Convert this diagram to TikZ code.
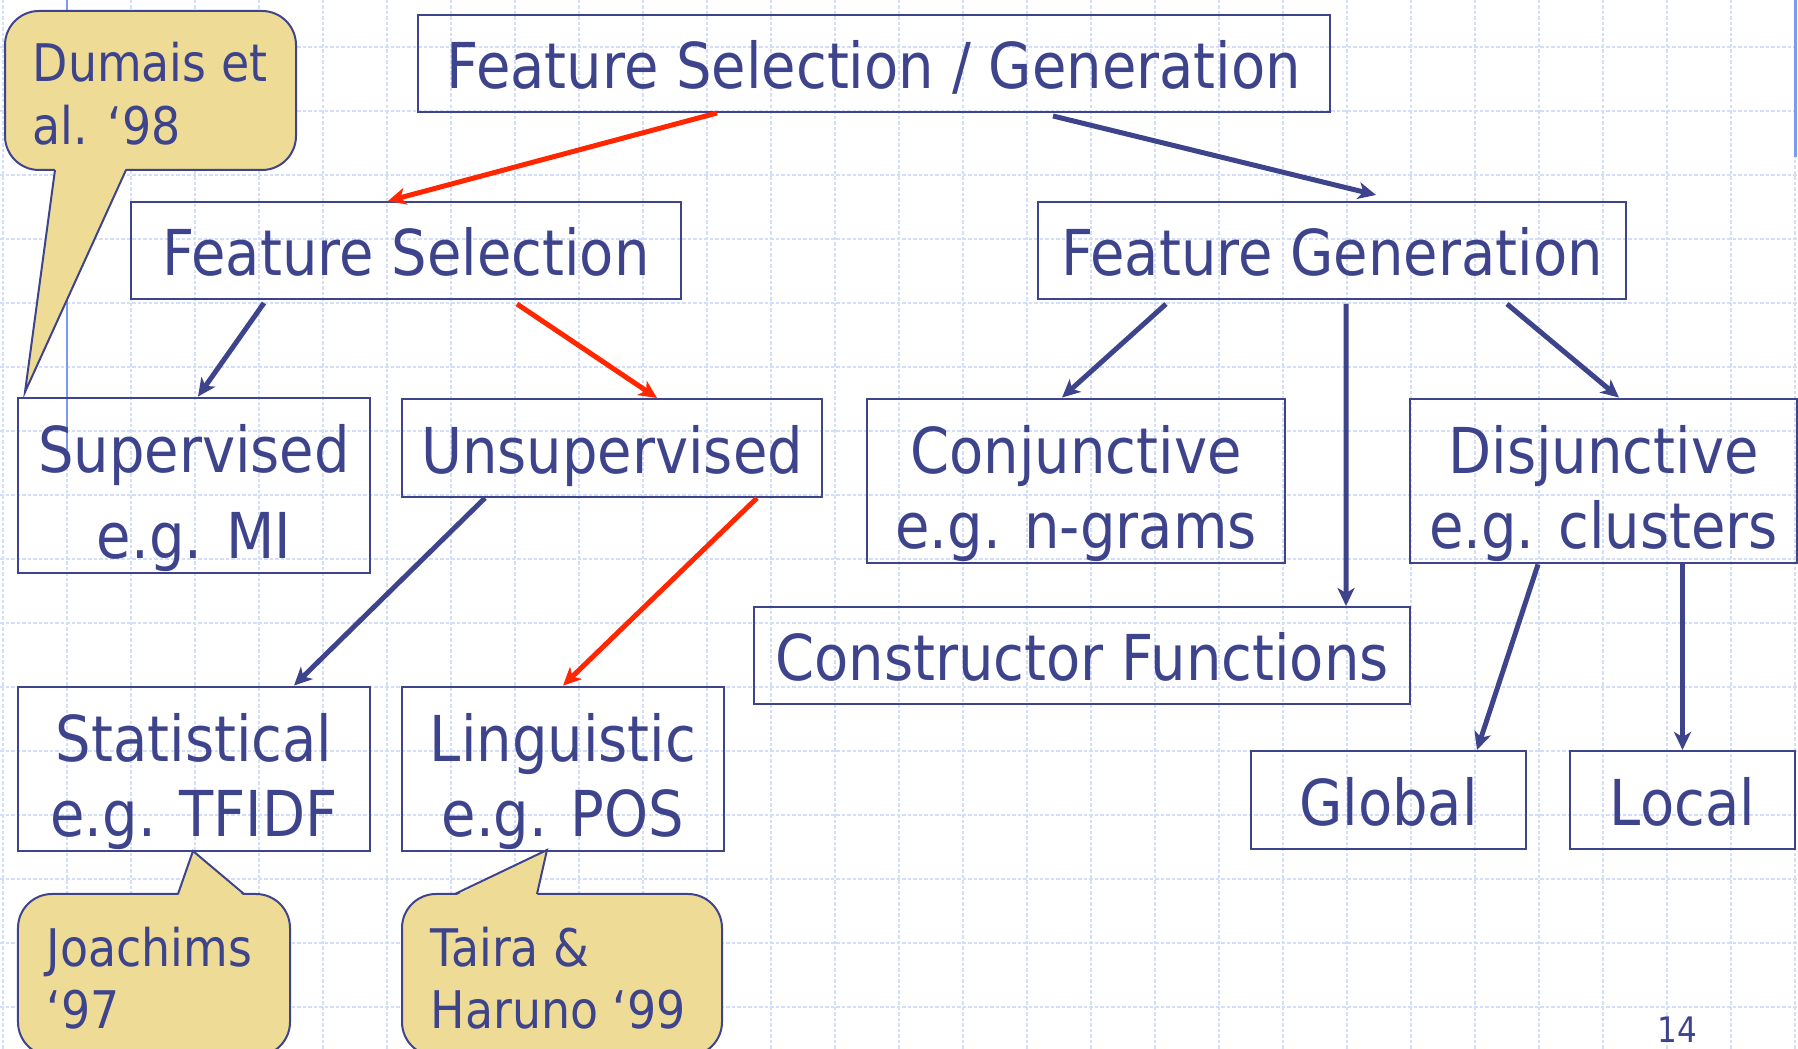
\documentclass[tikz,border=0pt]{standalone}
\usepackage{fontspec}
\setmainfont{DejaVu Sans}[FakeStretch=0.885]
\usetikzlibrary{arrows.meta}

\definecolor{slide}{RGB}{62,68,140}
\definecolor{hot}{RGB}{255,38,0}
\definecolor{notefill}{RGB}{238,220,150}
\definecolor{gridblue}{RGB}{210,222,250}
\definecolor{ruleblue}{RGB}{125,155,238}

\newcommand{\topstrut}{\rule{0pt}{0.75cm}}

\tikzset{
  box/.style={draw=slide, line width=0.02cm, text=slide, inner sep=0pt, align=center,
    font=\fontsize{18}{21.3}\selectfont,
    execute at begin node={\rule{0pt}{0.66cm}},
    execute at end node={\rule[-0.15cm]{0pt}{0pt}}},
  bluearr/.style={draw=slide, line width=0.05cm,
    -{Stealth[length=0.18cm,width=0.17cm,inset=0.05cm]}},
  redarr/.style={bluearr, draw=hot},
  gridline/.style={draw=gridblue, line width=0.02cm, dash pattern=on 0.035cm off 0.02cm},
  callout/.style={fill=notefill, draw=slide, line width=0.02cm},
  notetext/.style={text=slide, anchor=north west, align=left, inner sep=0pt,
    font=\fontsize{14.75}{17.9}\selectfont},
}

\begin{document}
\begin{tikzpicture}[x=1cm,y=-1cm]
\useasboundingbox (0,0) rectangle (17.98,10.49);
\clip (0,0) rectangle (17.98,10.49);

% background grid
\foreach \gx in {0,...,28}
    \draw[gridline] ({0.03+0.64*\gx},0) -- ({0.03+0.64*\gx},10.49);
\foreach \gy in {0,...,15}
    \draw[gridline] (0,{0.47+0.64*\gy}) -- (17.98,{0.47+0.64*\gy});
\draw[ruleblue, line width=0.02cm] (0.67,0) -- (0.67,4.50);
\draw[ruleblue, line width=0.03cm] (17.95,0) -- (17.95,1.57);

% boxes
\node[box, minimum width=9.12cm, minimum height=0.97cm] (fsg) at (8.74,0.635) {Feature Selection / Generation};
\node[box, minimum width=5.50cm, minimum height=0.97cm] (fsel) at (4.06,2.505) {Feature Selection};
\node[box, minimum width=5.88cm, minimum height=0.97cm] (fgen) at (13.32,2.505) {Feature Generation};

\node[box, minimum width=3.52cm, minimum height=1.73cm] (sup) at (1.94,4.855) {\topstrut Supervised\\[0.11cm]e.g. MI};
\node[box, minimum width=4.20cm, minimum height=0.98cm] (unsup) at (6.12,4.48) {Unsupervised};
\node[box, minimum width=4.18cm, minimum height=1.64cm] (conj) at (10.76,4.81) {\topstrut Conjunctive\\e.g. n-grams};
\node[box, minimum width=3.87cm, minimum height=1.64cm] (disj) at (16.035,4.81) {\topstrut Disjunctive\\e.g. clusters};
\node[box, minimum width=6.56cm, minimum height=0.97cm] (cons) at (10.82,6.555) {Constructor Functions};

\node[box, minimum width=3.52cm, minimum height=1.64cm] (stat) at (1.94,7.69) {\topstrut Statistical\\e.g. TFIDF};
\node[box, minimum width=3.22cm, minimum height=1.64cm] (ling) at (5.63,7.69) {\topstrut Linguistic\\e.g. POS};
\node[box, minimum width=2.75cm, minimum height=0.98cm] (glob) at (13.885,8.00) {Global};
\node[box, minimum width=2.25cm, minimum height=0.98cm] (loc) at (16.825,8.00) {Local};

% connectors
\draw[redarr] ([xshift=-1.57cm]fsg.south) -- ([xshift=-0.18cm]fsel.north);
\draw[bluearr] ([xshift=1.79cm,yshift=-0.03cm]fsg.south) -- ([xshift=0.44cm,yshift=0.06cm]fgen.north);
\draw[bluearr] ([xshift=-1.42cm,yshift=-0.03cm]fsel.south) -- ([xshift=0.04cm]sup.north);
\draw[redarr] ([xshift=1.11cm,yshift=-0.04cm]fsel.south) -- ([xshift=0.45cm]unsup.north);
\draw[bluearr] ([xshift=-1.27cm]unsup.south) -- ([xshift=1.00cm]stat.north);
\draw[redarr] ([xshift=1.45cm]unsup.south) -- (ling.north);
\draw[bluearr] ([xshift=-1.66cm,yshift=-0.04cm]fgen.south) -- ([xshift=-0.14cm]conj.north);
\draw[bluearr] ([xshift=0.14cm,yshift=-0.04cm]fgen.south) -- ([xshift=2.64cm]cons.north);
\draw[bluearr] ([xshift=1.75cm,yshift=-0.04cm]fgen.south) -- ([xshift=0.155cm]disj.north);
\draw[bluearr] ([xshift=-0.655cm]disj.south) -- ([xshift=0.885cm]glob.north);
\draw[bluearr] ([xshift=0.79cm]disj.south) -- (loc.north);

% callouts
\draw[callout, rounded corners=0.34cm] (0.05,0.11) rectangle (2.96,1.70);
\fill[notefill] (0.55,1.68) -- (0.25,3.92) -- (1.26,1.68) -- cycle;
\draw[slide, line width=0.02cm] (0.55,1.70) -- (0.25,3.92) -- (1.26,1.70);
\node[notetext] (dumais) at (0.32,0.415) {Dumais et\\al. ‘98};

\draw[callout, rounded corners=0.34cm] (0.18,8.94) rectangle (2.90,10.56);
\fill[notefill] (1.78,8.96) -- (1.93,8.51) -- (2.44,8.96) -- cycle;
\draw[slide, line width=0.02cm] (1.78,8.94) -- (1.93,8.51) -- (2.44,8.94);
\node[notetext] (joachims) at (0.46,9.26) {Joachims\\‘97};

\draw[callout, rounded corners=0.34cm] (4.02,8.94) rectangle (7.22,10.56);
\fill[notefill] (4.55,8.96) -- (5.47,8.50) -- (5.37,8.96) -- cycle;
\draw[slide, line width=0.02cm] (4.55,8.94) -- (5.47,8.50) -- (5.37,8.94);
\node[notetext] (taira) at (4.30,9.26) {Taira \&\\Haruno ‘99};

\node[text=slide, anchor=base, inner sep=0pt, font=\fontsize{10}{12}\selectfont] (pagenum) at (16.77,10.43) {14};
\end{tikzpicture}
\end{document}
